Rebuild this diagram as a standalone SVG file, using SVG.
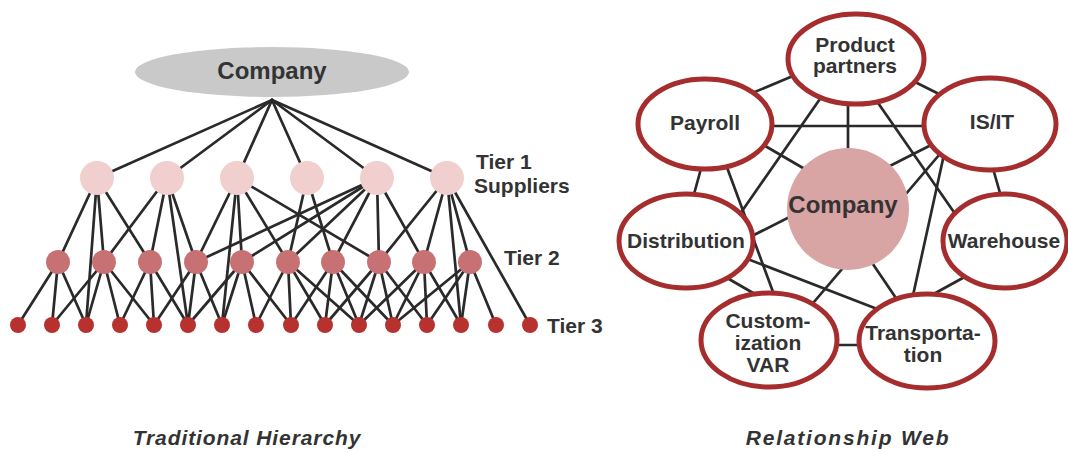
<svg xmlns="http://www.w3.org/2000/svg" width="1068" height="452" viewBox="0 0 1068 452">
<style>
.ln{stroke:#2a2a2a;stroke-width:2.7;stroke-linecap:round;fill:none}
.t1{fill:#f1cfcf}
.t2{fill:#c87174}
.t3{fill:#b7312f}
.ring{fill:#fff;stroke:#a62d2d;stroke-width:5}
.lbl{font-family:"Liberation Sans",Arial,sans-serif;font-weight:bold;fill:#333;font-size:21px;text-anchor:middle}
.tier{font-family:"Liberation Sans",Arial,sans-serif;font-weight:bold;fill:#333;font-size:21px}
.cap{font-family:"Liberation Sans",Arial,sans-serif;font-weight:bold;font-style:italic;fill:#333;font-size:21px;text-anchor:middle}
</style>
<rect width="1068" height="452" fill="#fff"/>

<!-- Left: Traditional Hierarchy connectors -->
<g id="hierarchy-connectors" class="ln">
  <line x1="272" y1="100" x2="97" y2="178"/>
  <line x1="272" y1="100" x2="167" y2="178"/>
  <line x1="272" y1="100" x2="237" y2="178"/>
  <line x1="272" y1="100" x2="307" y2="178"/>
  <line x1="272" y1="100" x2="377" y2="178"/>
  <line x1="272" y1="100" x2="447" y2="178"/>
  <!-- Tier1 -> Tier2/3 -->
  <line x1="97" y1="178" x2="58" y2="262"/>
  <line x1="97" y1="178" x2="104" y2="262"/>
  <line x1="97" y1="178" x2="150" y2="262"/>
  <line x1="97" y1="178" x2="86" y2="325"/>
  <line x1="167" y1="178" x2="104" y2="262"/>
  <line x1="167" y1="178" x2="150" y2="262"/>
  <line x1="167" y1="178" x2="196" y2="262"/>
  <line x1="167" y1="178" x2="188" y2="325"/>
  <line x1="237" y1="178" x2="196" y2="262"/>
  <line x1="237" y1="178" x2="242" y2="262"/>
  <line x1="237" y1="178" x2="288" y2="262"/>
  <line x1="237" y1="178" x2="379" y2="262"/>
  <line x1="237" y1="178" x2="222" y2="325"/>
  <line x1="307" y1="178" x2="288" y2="262"/>
  <line x1="307" y1="178" x2="333" y2="262"/>
  <line x1="377" y1="178" x2="196" y2="262"/>
  <line x1="377" y1="178" x2="242" y2="262"/>
  <line x1="377" y1="178" x2="288" y2="262"/>
  <line x1="377" y1="178" x2="333" y2="262"/>
  <line x1="377" y1="178" x2="379" y2="262"/>
  <line x1="377" y1="178" x2="424" y2="262"/>
  <line x1="447" y1="178" x2="379" y2="262"/>
  <line x1="447" y1="178" x2="424" y2="262"/>
  <line x1="447" y1="178" x2="470" y2="262"/>
  <line x1="447" y1="178" x2="461" y2="325"/>
  <line x1="447" y1="178" x2="530" y2="325"/>
  <!-- Tier2 -> Tier3 -->
  <line x1="58" y1="262" x2="18" y2="325"/>
  <line x1="58" y1="262" x2="52" y2="325"/>
  <line x1="58" y1="262" x2="86" y2="325"/>
  <line x1="104" y1="262" x2="52" y2="325"/>
  <line x1="104" y1="262" x2="86" y2="325"/>
  <line x1="104" y1="262" x2="120" y2="325"/>
  <line x1="104" y1="262" x2="154" y2="325"/>
  <line x1="150" y1="262" x2="120" y2="325"/>
  <line x1="150" y1="262" x2="154" y2="325"/>
  <line x1="150" y1="262" x2="188" y2="325"/>
  <line x1="196" y1="262" x2="154" y2="325"/>
  <line x1="196" y1="262" x2="188" y2="325"/>
  <line x1="196" y1="262" x2="222" y2="325"/>
  <line x1="242" y1="262" x2="188" y2="325"/>
  <line x1="242" y1="262" x2="222" y2="325"/>
  <line x1="242" y1="262" x2="256" y2="325"/>
  <line x1="242" y1="262" x2="291" y2="325"/>
  <line x1="288" y1="262" x2="256" y2="325"/>
  <line x1="288" y1="262" x2="291" y2="325"/>
  <line x1="288" y1="262" x2="325" y2="325"/>
  <line x1="288" y1="262" x2="359" y2="325"/>
  <line x1="333" y1="262" x2="291" y2="325"/>
  <line x1="333" y1="262" x2="325" y2="325"/>
  <line x1="333" y1="262" x2="359" y2="325"/>
  <line x1="333" y1="262" x2="393" y2="325"/>
  <line x1="379" y1="262" x2="325" y2="325"/>
  <line x1="379" y1="262" x2="359" y2="325"/>
  <line x1="379" y1="262" x2="393" y2="325"/>
  <line x1="379" y1="262" x2="427" y2="325"/>
  <line x1="424" y1="262" x2="359" y2="325"/>
  <line x1="424" y1="262" x2="393" y2="325"/>
  <line x1="424" y1="262" x2="427" y2="325"/>
  <line x1="424" y1="262" x2="461" y2="325"/>
  <line x1="470" y1="262" x2="393" y2="325"/>
  <line x1="470" y1="262" x2="427" y2="325"/>
  <line x1="470" y1="262" x2="461" y2="325"/>
  <line x1="470" y1="262" x2="496" y2="325"/>
</g>

<g id="h-company">
  <ellipse cx="272" cy="72" rx="137" ry="25" fill="#c9c9c9"/>
  <text x="272" y="79" class="lbl" style="font-size:24px">Company</text>
</g>
<g id="tier1">
  <circle class="t1" cx="97" cy="178" r="17"/>
  <circle class="t1" cx="167" cy="178" r="17"/>
  <circle class="t1" cx="237" cy="178" r="17"/>
  <circle class="t1" cx="307" cy="178" r="17"/>
  <circle class="t1" cx="377" cy="178" r="17"/>
  <circle class="t1" cx="447" cy="178" r="17"/>
</g>
<g id="tier2">
  <circle class="t2" cx="58" cy="262" r="12"/>
  <circle class="t2" cx="104" cy="262" r="12"/>
  <circle class="t2" cx="150" cy="262" r="12"/>
  <circle class="t2" cx="196" cy="262" r="12"/>
  <circle class="t2" cx="242" cy="262" r="12"/>
  <circle class="t2" cx="288" cy="262" r="12"/>
  <circle class="t2" cx="333" cy="262" r="12"/>
  <circle class="t2" cx="379" cy="262" r="12"/>
  <circle class="t2" cx="424" cy="262" r="12"/>
  <circle class="t2" cx="470" cy="262" r="12"/>
</g>
<g id="tier3">
  <circle class="t3" cx="18" cy="325" r="8"/>
  <circle class="t3" cx="52" cy="325" r="8"/>
  <circle class="t3" cx="86" cy="325" r="8"/>
  <circle class="t3" cx="120" cy="325" r="8"/>
  <circle class="t3" cx="154" cy="325" r="8"/>
  <circle class="t3" cx="188" cy="325" r="8"/>
  <circle class="t3" cx="222" cy="325" r="8"/>
  <circle class="t3" cx="256" cy="325" r="8"/>
  <circle class="t3" cx="291" cy="325" r="8"/>
  <circle class="t3" cx="325" cy="325" r="8"/>
  <circle class="t3" cx="359" cy="325" r="8"/>
  <circle class="t3" cx="393" cy="325" r="8"/>
  <circle class="t3" cx="427" cy="325" r="8"/>
  <circle class="t3" cx="461" cy="325" r="8"/>
  <circle class="t3" cx="496" cy="325" r="8"/>
  <circle class="t3" cx="530" cy="325" r="8"/>
</g>
<g id="tier-labels">
  <text class="tier" x="476" y="169">Tier 1</text>
  <text class="tier" x="474" y="193">Suppliers</text>
  <text class="tier" x="504" y="265">Tier 2</text>
  <text class="tier" x="547" y="333">Tier 3</text>
</g>

<!-- Right: Relationship Web connectors -->
<g id="web-connectors" class="ln">
  <line x1="750" y1="94" x2="800" y2="73"/>
  <line x1="905" y1="77" x2="945" y2="97"/>
  <line x1="765" y1="126" x2="930" y2="126"/>
  <line x1="848" y1="100" x2="848" y2="160"/>
  <line x1="822" y1="96" x2="740" y2="214"/>
  <line x1="876" y1="100" x2="958" y2="218"/>
  <line x1="760" y1="143" x2="815" y2="175"/>
  <line x1="702" y1="165" x2="691" y2="205"/>
  <line x1="725" y1="162" x2="776" y2="300"/>
  <line x1="750" y1="237" x2="935" y2="143"/>
  <line x1="808" y1="309" x2="945" y2="148"/>
  <line x1="912" y1="300" x2="945" y2="150"/>
  <line x1="992" y1="165" x2="1002" y2="200"/>
  <line x1="722" y1="275" x2="760" y2="297"/>
  <line x1="745" y1="258" x2="885" y2="312"/>
  <line x1="830" y1="345" x2="865" y2="345"/>
  <line x1="930" y1="296" x2="970" y2="274"/>
  <line x1="860" y1="245" x2="900" y2="304"/>
</g>

<g id="w-company">
  <circle cx="848" cy="209" r="61" fill="#d9a4a4"/>
  <text x="843" y="213" class="lbl" style="font-size:24px">Company</text>
</g>
<g id="w-product">
  <ellipse class="ring" cx="856" cy="59" rx="68" ry="45"/>
  <text x="855" y="52" class="lbl">Product</text>
  <text x="855" y="73" class="lbl">partners</text>
</g>
<g id="w-payroll">
  <ellipse class="ring" cx="705" cy="124" rx="67" ry="45"/>
  <text x="705" y="130" class="lbl">Payroll</text>
</g>
<g id="w-isit">
  <ellipse class="ring" cx="990" cy="124" rx="66" ry="46"/>
  <text x="992" y="129" class="lbl">IS/IT</text>
</g>
<g id="w-distribution">
  <ellipse class="ring" cx="686" cy="241" rx="67" ry="47"/>
  <text x="686" y="248" class="lbl">Distribution</text>
</g>
<g id="w-warehouse">
  <ellipse class="ring" cx="1005" cy="241" rx="62" ry="47"/>
  <text x="1004" y="248" class="lbl">Warehouse</text>
</g>
<g id="w-custom">
  <ellipse class="ring" cx="769" cy="340" rx="68" ry="47"/>
  <text x="768" y="328" class="lbl">Custom-</text>
  <text x="768" y="350" class="lbl">ization</text>
  <text x="768" y="372" class="lbl">VAR</text>
</g>
<g id="w-transport">
  <ellipse class="ring" cx="927" cy="341" rx="68" ry="47"/>
  <text x="923" y="340" class="lbl">Transporta-</text>
  <text x="923" y="362" class="lbl">tion</text>
</g>

<g id="captions">
  <text class="cap" x="247" y="445" style="letter-spacing:0.9px">Traditional Hierarchy</text>
  <text class="cap" x="848" y="445" style="letter-spacing:1.8px">Relationship Web</text>
</g>
</svg>
